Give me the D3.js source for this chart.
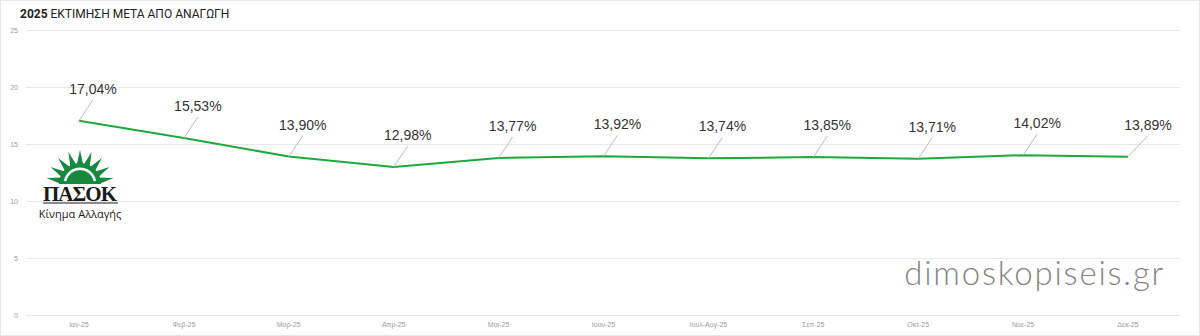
<!DOCTYPE html>
<html><head><meta charset="utf-8">
<script src="https://cdn.jsdelivr.net/npm/d3@7"></script>
<style>
html,body{margin:0;padding:0;background:#fff;}
svg{display:block;}
</style></head>
<body>
<svg id="c" width="1200" height="336"></svg>
<script>
const categories = ["Ιαν-25","Φεβ-25","Μαρ-25","Απρ-25","Μαι-25","Ιουν-25","Ιουλ-Αυγ-25","Σεπ-25","Οκτ-25","Νοε-25","Δεκ-25"];
const values = [17.04,15.53,13.90,12.98,13.77,13.92,13.74,13.85,13.71,14.02,13.89];
const yTicks = [0,5,10,15,20,25];
const titleBold = "2025";
const titleRest = " ΕΚΤΙΜΗΣΗ ΜΕΤΑ ΑΠΟ ΑΝΑΓΩΓΗ";

const svg = d3.select("#c");
const W = 1200, H = 336;
svg.append("rect").attr("x",0.5).attr("y",0.5).attr("width",W-1).attr("height",H-1)
  .attr("fill","#fff").attr("stroke","#e6e6e6");

const x = d3.scaleBand().domain(categories).range([26.5,1180.5]);
const y = d3.scaleLinear().domain([0,25]).range([315,30]);

// grid
const g = svg.append("g");
g.selectAll("line.grid").data(yTicks).join("line")
  .attr("x1",26).attr("x2",1180)
  .attr("y1",d=>Math.round(y(d))+0.5).attr("y2",d=>Math.round(y(d))+0.5)
  .attr("stroke","#e8e8e8").attr("stroke-width",1);

// y axis labels
const yAxis = d3.axisLeft(y).tickValues(yTicks).tickSize(0).tickPadding(0);
const ya = svg.append("g").attr("transform","translate(18,0)").call(yAxis);
ya.select(".domain").remove();
ya.selectAll("text").attr("font-family","Liberation Sans, Arial, sans-serif").attr("font-size",7).attr("fill","#9a9a9a");

// x axis labels
const xAxis = d3.axisBottom(x).tickSize(0).tickPadding(0);
const xa = svg.append("g").attr("transform","translate(0,322)").call(xAxis);
xa.select(".domain").remove();
xa.selectAll("text").attr("font-family","Liberation Sans, Arial, sans-serif").attr("font-size",7).attr("fill","#9a9a9a");

// title
const t = svg.append("text").attr("x",20).attr("y",18)
  .attr("font-family","Roboto, 'Open Sans', sans-serif").attr("font-size",12).attr("fill","#222");
t.append("tspan").attr("font-weight","bold").text(titleBold);
t.append("tspan").text(titleRest);

// line
const cx = d => x(d.c) + x.bandwidth()/2;
const data = categories.map((c,i)=>({c, v: values[i]}));
const line = d3.line().x(cx).y(d=>y(d.v));
svg.append("path").datum(data).attr("d",line)
  .attr("fill","none").attr("stroke","#1ea83c").attr("stroke-width",2).attr("stroke-linejoin","round");

// labels with leaders
const lab = svg.append("g");
data.forEach((d,i)=>{
  const px = cx(d), py = y(d.v);
  const dx = i === data.length-1 ? 20 : 14;
  lab.append("line").attr("x1",px).attr("y1",py).attr("x2",px+dx).attr("y2",py-21)
    .attr("stroke","#bbb").attr("stroke-width",1);
  lab.append("text").attr("x",px+dx).attr("y",py-27).attr("text-anchor","middle")
    .attr("font-family","Liberation Sans, Arial, sans-serif").attr("font-size",14).attr("fill","#333")
    .text(d.v.toFixed(2).replace(".",",")+"%");
});

// watermark
svg.append("text").attr("x",1165).attr("y",285).attr("text-anchor","end")
  .attr("font-family","Lato, sans-serif").attr("font-weight",300).attr("font-size",33)
  .attr("letter-spacing",1.8).attr("fill","#858585")
  .text("dimoskopiseis.gr");

// PASOK logo
const logo = svg.append("g").attr("transform","translate(80,184)");
const nR = 9, rOut = 34, rIn = 19;
for(let k=1;k<2*nR;k+=2){
  const a0 = Math.PI + Math.PI*(k-1)/(2*nR), a1 = Math.PI + Math.PI*k/(2*nR), a2 = Math.PI + Math.PI*(k+1)/(2*nR);
  logo.append("path").attr("d",`M${rIn*Math.cos(a0)},${rIn*Math.sin(a0)} L${rOut*Math.cos(a1)},${rOut*Math.sin(a1)} L${rIn*Math.cos(a2)},${rIn*Math.sin(a2)} Z`)
    .attr("fill","#15893d");
}
logo.append("path").attr("d",d3.arc()({innerRadius:0,outerRadius:rIn+2,startAngle:-Math.PI/2,endAngle:Math.PI/2}))
  .attr("fill","#15893d");
logo.append("path").attr("d",d3.arc()({innerRadius:14,outerRadius:16.5,startAngle:-Math.PI/2.3,endAngle:Math.PI/2.3}))
  .attr("fill","#fff");
logo.append("rect").attr("x",-36).attr("y",0).attr("width",72).attr("height",4).attr("fill","#fff");
svg.append("text").attr("x",80).attr("y",201).attr("text-anchor","middle")
  .attr("font-family","'Liberation Serif', 'DejaVu Serif', serif").attr("font-weight","bold").attr("font-size",21)
  .attr("fill","#1a1a1a").attr("textLength",74).text("ΠΑΣΟΚ");
svg.append("line").attr("x1",43).attr("x2",118).attr("y1",203).attr("y2",203).attr("stroke","#1a1a1a").attr("stroke-width",1.2);
svg.append("text").attr("x",80).attr("y",218).attr("text-anchor","middle")
  .attr("font-family","'Open Sans', sans-serif").attr("font-size",11).attr("fill","#1a1a1a")
  .text("Κίνημα Αλλαγής");
</script>
</body></html>
